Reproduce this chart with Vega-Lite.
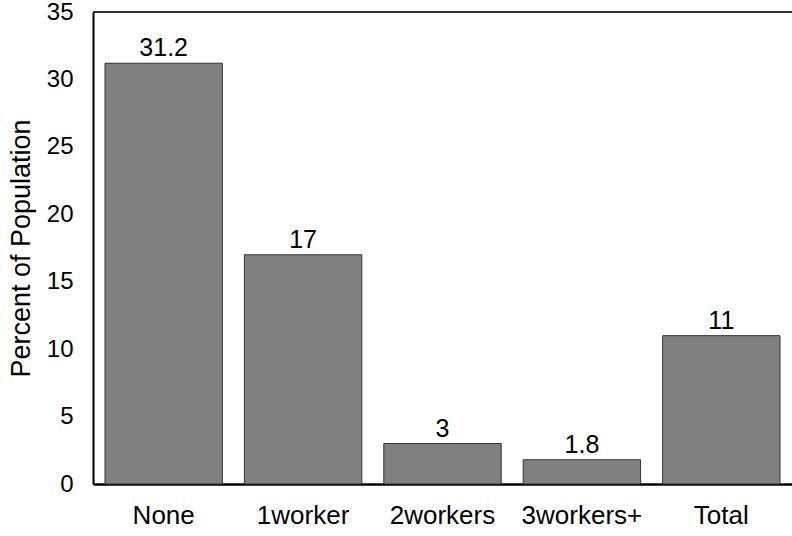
{
  "$schema": "https://vega.github.io/schema/vega-lite/v6.json",
  "width": 699,
  "height": 472,
  "autosize": "none",
  "padding": {"left": 93, "top": 12, "right": 0, "bottom": 52},
  "background": "white",
  "config": {
    "view": {"stroke": null},
    "font": "Liberation Sans",
    "axis": {"labelFont": "Liberation Sans", "titleFont": "Liberation Sans", "labelColor": "black", "titleColor": "black", "grid": false, "ticks": false, "domainColor": "black"}
  },
  "data": {"values": [
    {"category": "None", "value": 31.2, "label": "31.2"},
    {"category": "1worker", "value": 17, "label": "17"},
    {"category": "2workers", "value": 3, "label": "3"},
    {"category": "3workers+", "value": 1.8, "label": "1.8"},
    {"category": "Total", "value": 11, "label": "11"}
  ]},
  "layer": [
    {
      "mark": {"type": "bar", "fill": "#808080", "stroke": "#333333", "strokeWidth": 1},
      "encoding": {
        "x": {"field": "category", "type": "nominal", "sort": null,
              "scale": {"paddingInner": 0.158, "paddingOuter": 0.086},
              "axis": {"title": null, "labelAngle": 0, "labelFontSize": 26, "labelPadding": 18, "domainWidth": 2.5}},
        "y": {"field": "value", "type": "quantitative",
              "scale": {"domain": [0, 35], "nice": false},
              "axis": {"title": "Percent of Population", "values": [0,5,10,15,20,25,30,35], "labelFontSize": 24, "labelPadding": 20, "titleFontSize": 27, "titleFontWeight": "normal", "titlePadding": 11, "domainWidth": 2}}
      }
    },
    {
      "mark": {"type": "text", "fontSize": 25, "baseline": "alphabetic", "dy": -7, "color": "black", "font": "Liberation Sans"},
      "encoding": {
        "x": {"field": "category", "type": "nominal", "sort": null},
        "y": {"field": "value", "type": "quantitative"},
        "text": {"field": "label"}
      }
    },
    {
      "mark": {"type": "rule", "color": "#333333", "strokeWidth": 1.5},
      "encoding": {"y": {"datum": 35}}
    }
  ]
}
